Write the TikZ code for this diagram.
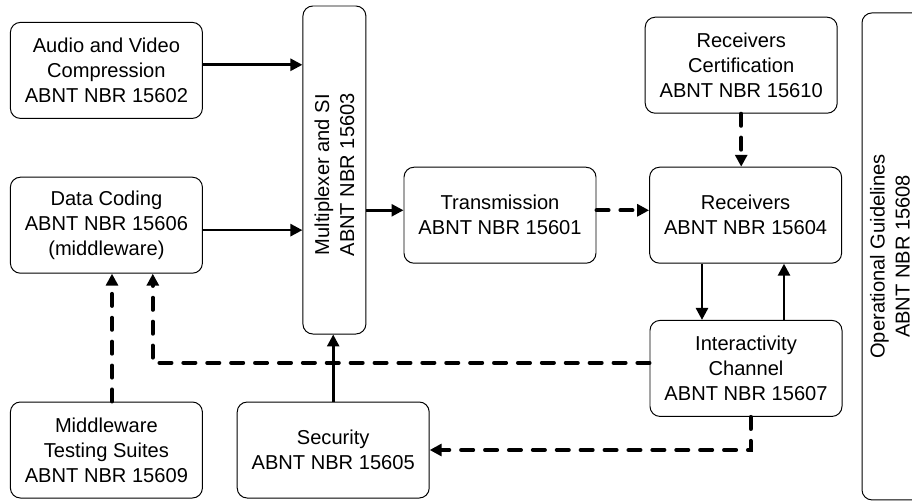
\documentclass[tikz,border=0pt]{standalone}
\usepackage{fontspec}
\setmainfont{Liberation Sans}
\usetikzlibrary{arrows.meta,positioning}

\begin{document}
\begin{tikzpicture}[>={Triangle[length=8.5pt,width=8.5pt]},
	font=\fontsize{14.3pt}{17.8pt}\selectfont,
	block/.style={draw,line width=0.7pt,rounded corners=0.25cm,align=center,inner sep=0pt,minimum width=4.8cm,minimum height=2.4cm},
	solidarr/.style={->,line width=1.9pt},
	dasharr/.style={->,line width=2.8pt,line cap=round,dash pattern=on 8.6pt off 8.4pt}]
			\useasboundingbox (0,0) rectangle (22.8,-12.575);
			% left column
			\node[block] (audio) at (2.66,-1.76) {Audio and Video\\Compression\\ABNT NBR 15602};
			\node[block] (data) at (2.66,-5.63) {Data Coding\\ABNT NBR 15606\\(middleware)};
			\node[block] (mts) at (2.66,-11.25) {Middleware\\Testing Suites\\ABNT NBR 15609};
			% multiplexer and security
			\node[block,minimum width=1.575cm,minimum height=8.2cm] (mux) at (8.36,-4.25) {};
			\node[rotate=90,align=center] (muxtext) at ([yshift=-0.12cm]mux.center) {Multiplexer and SI\\ABNT NBR 15603};
			\node[block] (sec) at (8.33,-11.25) {Security\\ABNT NBR 15605};
			% transmission and receivers
			\node[block] (trans) at (12.5,-5.38) {Transmission\\ABNT NBR 15601};
			\node[block] (recv) at (18.64,-5.38) {Receivers\\ABNT NBR 15604};
			\node[block] (cert) at (18.53,-1.63) {Receivers\\Certification\\ABNT NBR 15610};
			\node[block] (inter) at (18.65,-9.21) {Interactivity\\Channel\\ABNT NBR 15607};
			\node[block,minimum width=1.7cm,minimum height=12.175cm] (ops) at (22.4,-6.41) {};
			\node[rotate=90,align=center] (opstext) at (22.25,-6.41) {Operational Guidelines\\ABNT NBR 15608};

			\draw[solidarr] ([yshift=4pt]audio.east) -- ([yshift=4pt]audio.east -| mux.west);
			\draw[solidarr] ([yshift=-3.5pt]data.east) -- ([yshift=-3.5pt]data.east -| mux.west);
			\draw[solidarr] ([yshift=3.5pt]trans.west -| mux.east) -- ([yshift=3.5pt]trans.west);
			\draw[dasharr] ([yshift=3.5pt]trans.east) -- ([yshift=3.5pt]recv.west);
			\draw[dasharr] (cert.south) -- (cert.south |- recv.north);
			\draw[solidarr] ([xshift=-1.09cm]recv.south) -- ([xshift=-1.09cm]recv.south |- inter.north);
			\draw[solidarr] ([xshift=0.96cm]recv.south |- inter.north) -- ([xshift=0.96cm]recv.south);
			\draw[solidarr] (sec.north) -- (sec.north |- mux.south);
			\draw[dasharr] ([xshift=0.14cm]mts.north) -- ([xshift=0.14cm]data.south);
			\draw[dasharr] ([yshift=0.14cm]inter.west) -| ([xshift=1.16cm]data.south);
			\draw[dasharr] ([xshift=0.12cm]inter.south) |- (sec.east);
		\end{tikzpicture}
\end{document}
